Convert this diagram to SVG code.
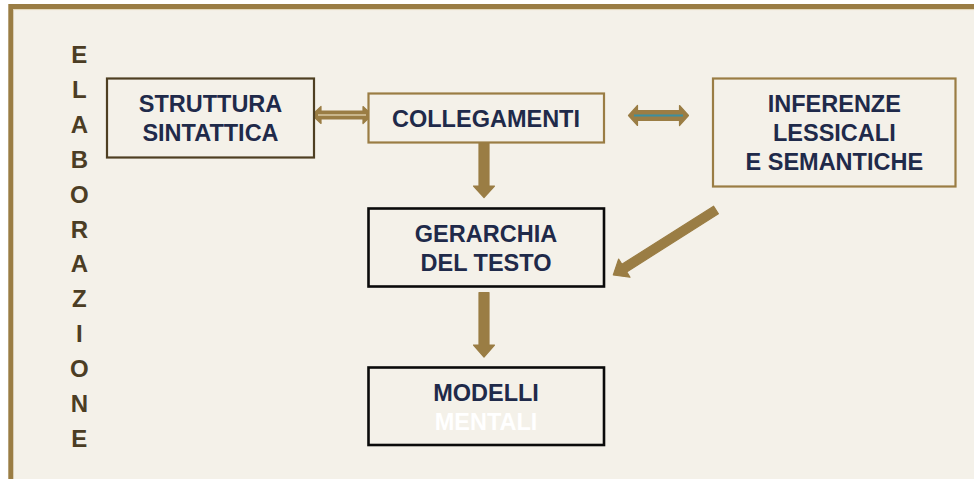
<svg xmlns="http://www.w3.org/2000/svg" width="974" height="479" viewBox="0 0 974 479">
<style>
.t{font-family:"Liberation Sans",Arial,sans-serif;font-weight:bold;font-size:23.5px;fill:#1f2a4a;text-anchor:middle}
.v{font-family:"Liberation Sans",Arial,sans-serif;font-weight:bold;font-size:24px;fill:#4b3d24;text-anchor:middle}
.box{fill:#f4f1e9;stroke-width:2.2}
.gold{stroke:#9a7d44}
.dark{stroke:#4e3f22}
.blk{stroke:#0a0a0a;stroke-width:2.6}
.arr{fill:#9a7d44;stroke:#9a7d44;stroke-width:1.2;stroke-linejoin:round}
</style>
<rect x="0" y="0" width="974" height="479" fill="#ffffff"/>
<g id="frame">
<rect x="10.8" y="6.5" width="1000" height="500" fill="#f4f1e9" stroke="#9a7d44" stroke-width="5"/>
<line x1="13.5" y1="9.6" x2="974" y2="9.6" stroke="#e2d6b6" stroke-width="1"/>
</g>
<g id="label-elaborazione">
<text class="v" x="79.3" y="63.3">E</text>
<text class="v" x="79.3" y="98.2">L</text>
<text class="v" x="79.3" y="133">A</text>
<text class="v" x="79.3" y="167.9">B</text>
<text class="v" x="79.3" y="202.7">O</text>
<text class="v" x="79.3" y="237.6">R</text>
<text class="v" x="79.3" y="272.4">A</text>
<text class="v" x="79.3" y="307.3">Z</text>
<text class="v" x="79.3" y="342.1">I</text>
<text class="v" x="79.3" y="377">O</text>
<text class="v" x="79.3" y="411.8">N</text>
<text class="v" x="79.3" y="446.7">E</text>
</g>
<g id="connectors">
<polygon class="arr" points="312,115 321,106.5 321,111 363,111 363,106.5 372,115 363,123.5 363,119 321,119 321,123.5"/>
<line x1="318" y1="115" x2="366" y2="115" stroke="#c9b58a" stroke-width="2"/>
<polygon class="arr" points="628.5,115.5 637.5,105.5 637.5,110.5 679.5,110.5 679.5,105.5 688.5,115.5 679.5,125.5 679.5,120.5 637.5,120.5 637.5,125.5"/>
<line x1="634" y1="115.5" x2="683" y2="115.5" stroke="#3b8fa0" stroke-width="2"/>
<polygon class="arr" points="479,143 489,143 489,186 494.5,186 484,197.5 473.5,186 479,186"/>
<polygon class="arr" points="479,292.5 489,292.5 489,345 494.5,345 484,357 473.5,345 479,345"/>
<polygon class="arr" points="713.6,206.2 718.4,213.8 626.7,271.9 630,277.2 613.3,275 618.6,259.1 621.9,264.3"/>
</g>
<g id="node-struttura">
<rect class="box dark" x="107" y="78.5" width="207" height="79"/>
<text class="t" x="210.5" y="112">STRUTTURA</text>
<text class="t" x="210.5" y="141">SINTATTICA</text>
</g>
<g id="node-collegamenti">
<rect class="box gold" x="368.5" y="93.5" width="235.5" height="49"/>
<text class="t" x="486" y="126.7">COLLEGAMENTI</text>
</g>
<g id="node-inferenze">
<rect class="box gold" x="713" y="78.5" width="242.5" height="108"/>
<text class="t" x="834.3" y="111.7">INFERENZE</text>
<text class="t" x="834.3" y="140.7">LESSICALI</text>
<text class="t" x="834.3" y="170">E SEMANTICHE</text>
</g>
<g id="node-gerarchia">
<rect class="box blk" x="368.5" y="208.5" width="235.5" height="78"/>
<text class="t" x="486" y="241.7">GERARCHIA</text>
<text class="t" x="486" y="270.7">DEL TESTO</text>
</g>
<g id="node-modelli">
<rect class="box blk" x="368.5" y="367.5" width="235.5" height="77.5"/>
<text class="t" x="486" y="400.7">MODELLI</text>
<text class="t" x="486" y="430" style="fill:#ffffff">MENTALI</text>
</g>
</svg>
